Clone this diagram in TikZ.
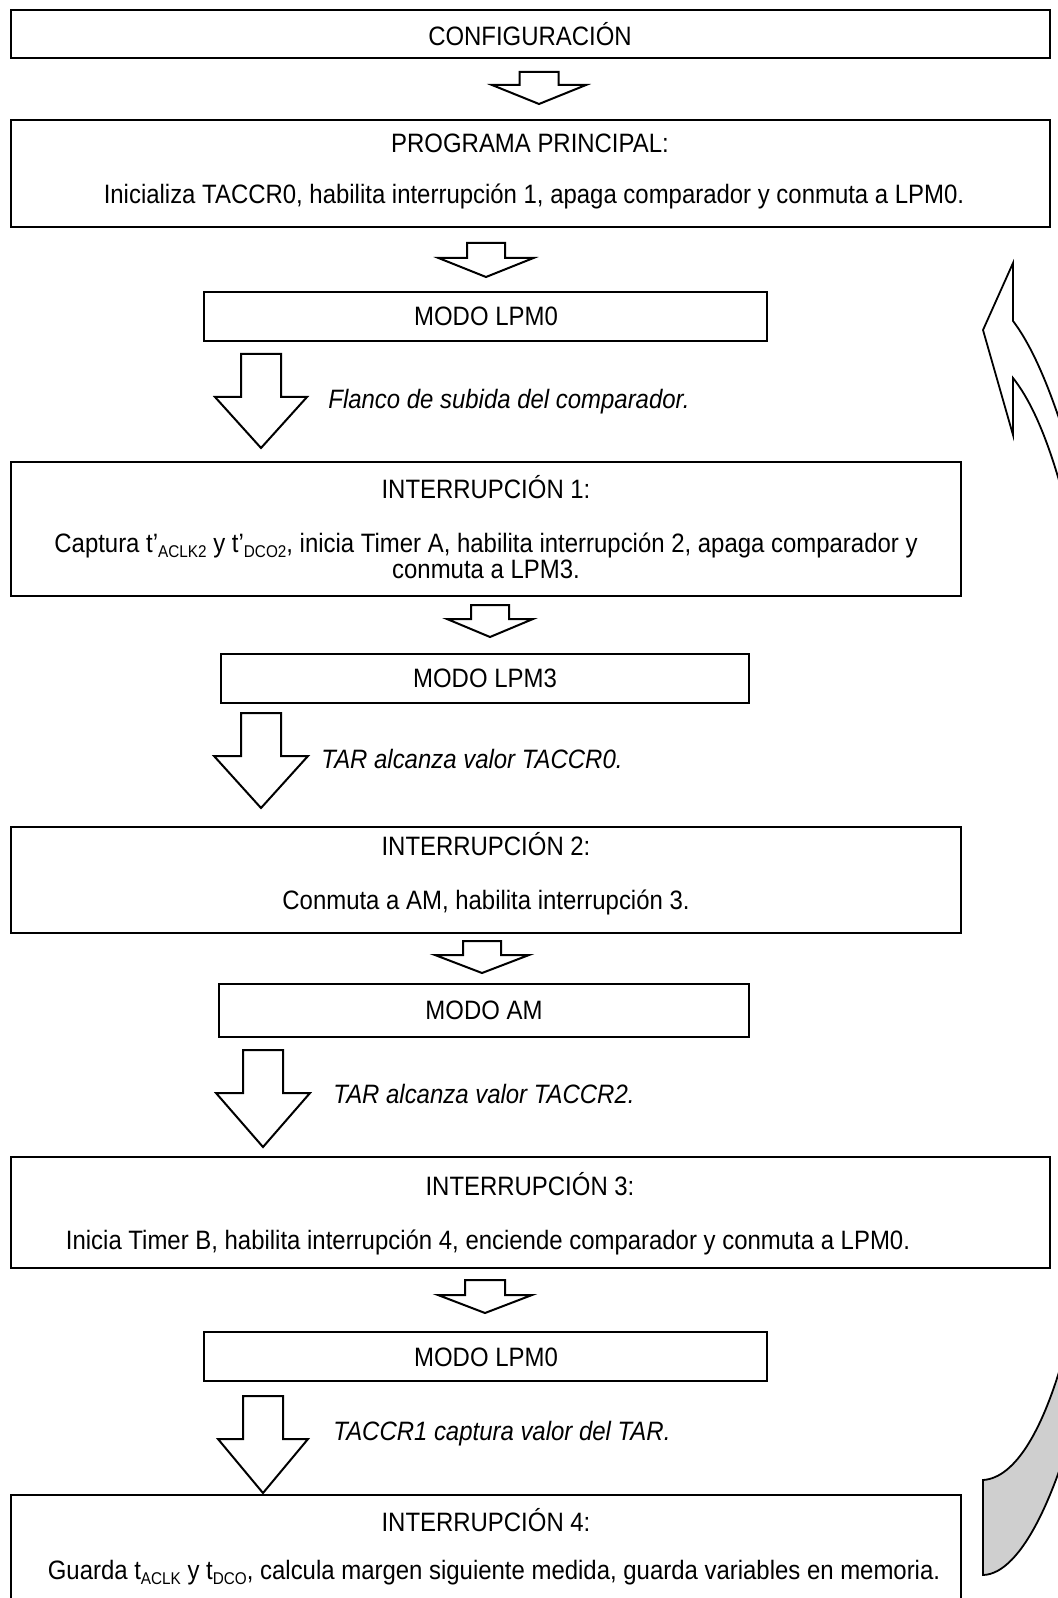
\documentclass[tikz,border=0pt]{standalone}
\usepackage{fontspec}
\setmainfont{Liberation Sans}[FakeStretch=0.9]
\usetikzlibrary{fit}

% subscript in the small Word-like style
\newcommand\lowsub[1]{\raisebox{-0.35ex}{\fontsize{8.5}{9}\selectfont #1}}

% block arrow: centre x, top y, stem half width, head half width, shoulder y, tip y
\newcommand\blockarrow[6]{%
  \draw[blkarrow] ({#1-#3},#2) -- ({#1+#3},#2) -- ({#1+#3},#5) -- ({#1+#4},#5)
    -- (#1,#6) -- ({#1-#4},#5) -- ({#1-#3},#5) -- cycle;}

\tikzset{
  box/.style={draw=black, line width=1pt, inner sep=0pt},
  txt/.style={font=\fontsize{13.3}{13}\selectfont, inner sep=0pt, align=center},
  cue/.style={font=\fontsize{13.3}{13}\selectfont\itshape, inner sep=0pt, anchor=west},
  blkarrow/.style={draw=black, fill=white, line width=1pt, line join=miter},
  loopline/.style={draw=black, line width=0.9pt},
}

\begin{document}
\begin{tikzpicture}[x=0.5pt, y=-0.5pt]
\useasboundingbox (0,0) rectangle (1058,1598);
\clip (0,0) rectangle (1058,1598);

% frames of the flow
\node[box, fit={(11,10) (1050,58)}] (cfg) {};
\node[box, fit={(11,120) (1050,227)}] (prog) {};
\node[box, fit={(204,292) (767,341)}] (lpmA) {};
\node[box, fit={(11,462) (961,596)}] (intA) {};
\node[box, fit={(221,654) (749,703)}] (lpmB) {};
\node[box, fit={(11,827) (961,933)}] (intB) {};
\node[box, fit={(219,984) (749,1037)}] (am) {};
\node[box, fit={(11,1157) (1050,1268)}] (intC) {};
\node[box, fit={(204,1332) (767,1381)}] (lpmC) {};
\node[box, fit={(11,1495) (961,1640)}] (intD) {};

% texts
\node[txt] (cfgT) at (530,34) {CONFIGURACIÓN};
\node[txt] (progT) at (530,143) {PROGRAMA PRINCIPAL:};
\node[txt] (progB) at (534,196) {Inicializa TACCR0, habilita interrupción 1, apaga comparador y conmuta a LPM0.};
\node[txt] (lpmAT) at (486,316) {MODO LPM0};
\node[txt] (intAT) at (486,487) {INTERRUPCIÓN 1:};
\node[txt] (intAB) at (486,556) {Captura t’\lowsub{ACLK2} y t’\lowsub{DCO2}, inicia Timer A, habilita interrupción 2, apaga comparador y\\conmuta a LPM3.};
\node[txt] (lpmBT) at (485,678) {MODO LPM3};
\node[txt] (intBT) at (486,844) {INTERRUPCIÓN 2:};
\node[txt] (intBB) at (486,902) {Conmuta a AM, habilita interrupción 3.};
\node[txt] (amT) at (484,1010) {MODO AM};
\node[txt] (intCT) at (530,1184) {INTERRUPCIÓN 3:};
\node[txt] (intCB) at (488,1242) {Inicia Timer B, habilita interrupción 4, enciende comparador y conmuta a LPM0.};
\node[txt] (lpmCT) at (486,1357) {MODO LPM0};
\node[txt] (intDT) at (486,1520) {INTERRUPCIÓN 4:};
\node[txt] (intDB) at (494,1573) {Guarda t\lowsub{ACLK} y t\lowsub{DCO}, calcula margen siguiente medida, guarda variables en memoria.};

% event labels beside the large arrows
\node[cue] (evA) at (328,402) {Flanco de subida del comparador.};
\node[cue] (evB) at (321,759) {TAR alcanza valor TACCR0.};
\node[cue] (evC) at (333,1094) {TAR alcanza valor TACCR2.};
\node[cue] (evD) at (333,1434) {TACCR1 captura valor del TAR.};

% small block arrows between a box and its low-power mode
\blockarrow{539}{72}{19.5}{47}{85}{104}
\blockarrow{486}{243}{19}{47.5}{258}{277}
\blockarrow{490}{605}{19}{43}{619}{637}
\blockarrow{482}{941}{19}{47}{955}{973}
\blockarrow{485}{1280}{20}{47}{1295}{1313}

% large block arrows for the wake-up events
\blockarrow{261}{354}{20}{46}{397}{448}
\blockarrow{261}{713}{20}{47}{756}{808}
\blockarrow{263}{1050}{20}{47}{1093}{1147}
\blockarrow{263}{1396}{20}{45}{1439}{1493}

% return loop: curved arrow, under side in grey
\filldraw[loopline, fill=black!19] (983,1480) .. controls (1015,1478) and (1045,1430) .. (1068,1340)
  -- (1085,1380) .. controls (1060,1490) and (1022,1574) .. (983,1575) -- cycle;
\filldraw[loopline, fill=white] (1013,263) -- (983,330) -- (1013,435) -- (1013,378)
  .. controls (1032,402) and (1052,445) .. (1072,530) -- (1075,470)
  .. controls (1055,400) and (1035,350) .. (1013,321) -- cycle;
\end{tikzpicture}
\end{document}
